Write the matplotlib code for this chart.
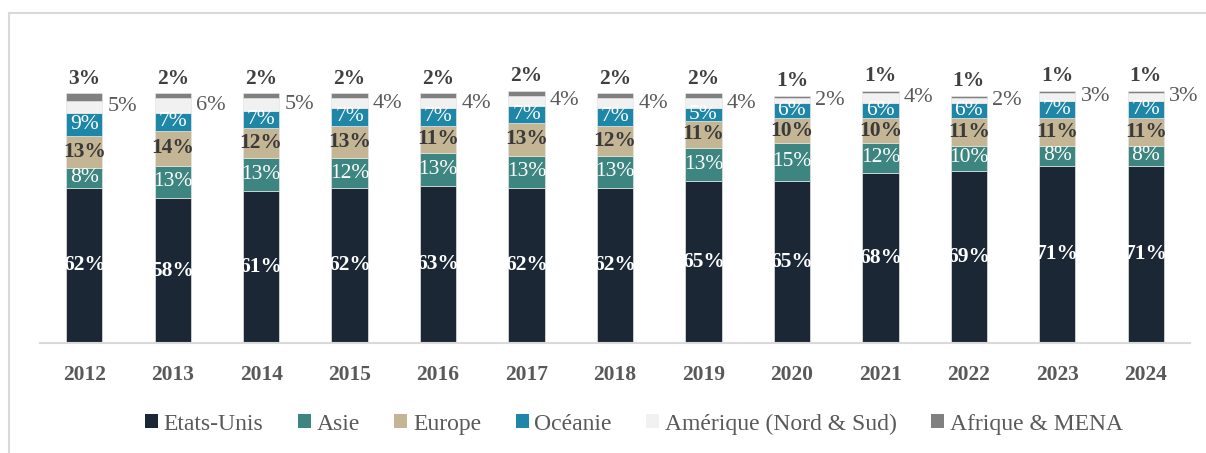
import matplotlib
matplotlib.use("Agg")
import matplotlib.pyplot as plt
from matplotlib.lines import Line2D
from matplotlib.patches import Patch
from matplotlib.font_manager import FontProperties
import numpy as np

plt.rcParams['font.family'] = ['Liberation Serif', 'DejaVu Serif']

years = ["2012", "2013", "2014", "2015", "2016", "2017", "2018",
         "2019", "2020", "2021", "2022", "2023", "2024"]
etats_unis = [62, 58, 61, 62, 63, 62, 62, 65, 65, 68, 69, 71, 71]
asie = [8, 13, 13, 12, 13, 13, 13, 13, 15, 12, 10, 8, 8]
europe = [13, 14, 12, 13, 11, 13, 12, 11, 10, 10, 11, 11, 11]
oceanie = [9, 7, 7, 7, 7, 7, 7, 5, 6, 6, 6, 7, 7]
amerique = [5, 6, 5, 4, 4, 4, 4, 4, 2, 4, 2, 3, 3]
afrique = [3, 2, 2, 2, 2, 2, 2, 2, 1, 1, 1, 1, 1]

series_names = ["Etats-Unis", "Asie", "Europe", "Océanie",
                "Amérique (Nord & Sud)", "Afrique & MENA"]
series = [etats_unis, asie, europe, oceanie, amerique, afrique]
colors = ["#1b2735", "#3d8580", "#c4b594", "#1e87a8", "#f1f1f1", "#808080"]

W, H = 1206, 453
fig = plt.figure(figsize=(W / 100, H / 100), dpi=100)
ax = fig.add_axes([40 / W, (H - 343) / H, 1150 / W, 283 / H])

x = np.arange(len(years))
bw = 0.41
bottom = np.zeros(len(years))
label_styles = [
    dict(color="white", fontweight="bold"),
    dict(color="white", fontweight="normal"),
    dict(color="#3a3a3a", fontweight="bold"),
    dict(color="white", fontweight="normal"),
    None,
    None,
]
for i, (vals, col) in enumerate(zip(series, colors)):
    vals = np.array(vals, dtype=float)
    ax.bar(x, vals, bw, bottom=bottom, color=col, edgecolor="#e4e4e4",
           linewidth=0.5, zorder=2)
    centers = bottom + vals / 2
    for xi, v, c, top in zip(x, vals, centers, bottom + vals):
        if i <= 3:
            ax.text(xi, c, f"{int(v)}%", ha="center", va="center",
                    fontsize=15.5, zorder=3, **label_styles[i])
        elif i == 4:
            ax.text(xi + 0.43, c, f"{int(v)}%", ha="center", va="center",
                    fontsize=16, color="#595959", zorder=3)
        else:
            ax.annotate(f"{int(v)}%", (xi, top), xytext=(0, 3),
                        textcoords="offset points", ha="center", va="bottom",
                        fontsize=15.5, fontweight="bold", color="#404040",
                        zorder=3)
    bottom += vals

ax.set_xlim(-0.5, 12.5)
ax.set_ylim(0, 113.2)
ax.set_xticks(x)
ax.set_xticklabels(years, fontsize=15.5, fontweight="bold", color="#595959")
ax.tick_params(axis="x", length=0, pad=16)
ax.set_yticks([])
for s in ["top", "right", "left"]:
    ax.spines[s].set_visible(False)
ax.spines["bottom"].set_color("#d9d9d9")
ax.spines["bottom"].set_linewidth(1.5)

handles = [Patch(facecolor=c, edgecolor="none") for c in colors]
fig.legend(handles, series_names, loc="center",
           bbox_to_anchor=(634 / W, 1 - 424 / H), ncol=6, frameon=False,
           prop=FontProperties(family=["Liberation Serif", "DejaVu Serif"], size=17),
           handlelength=0.55, handleheight=0.55,
           handletextpad=0.25, columnspacing=1.45, labelcolor="#595959")

fig.add_artist(Line2D([9 / W, 1], [1 - 13 / H, 1 - 13 / H],
                      transform=fig.transFigure, color="#d9d9d9", lw=1.5))
fig.add_artist(Line2D([9 / W, 9 / W], [0, 1 - 13 / H],
                      transform=fig.transFigure, color="#d9d9d9", lw=1.5))

fig.savefig("out.png", dpi=100)
